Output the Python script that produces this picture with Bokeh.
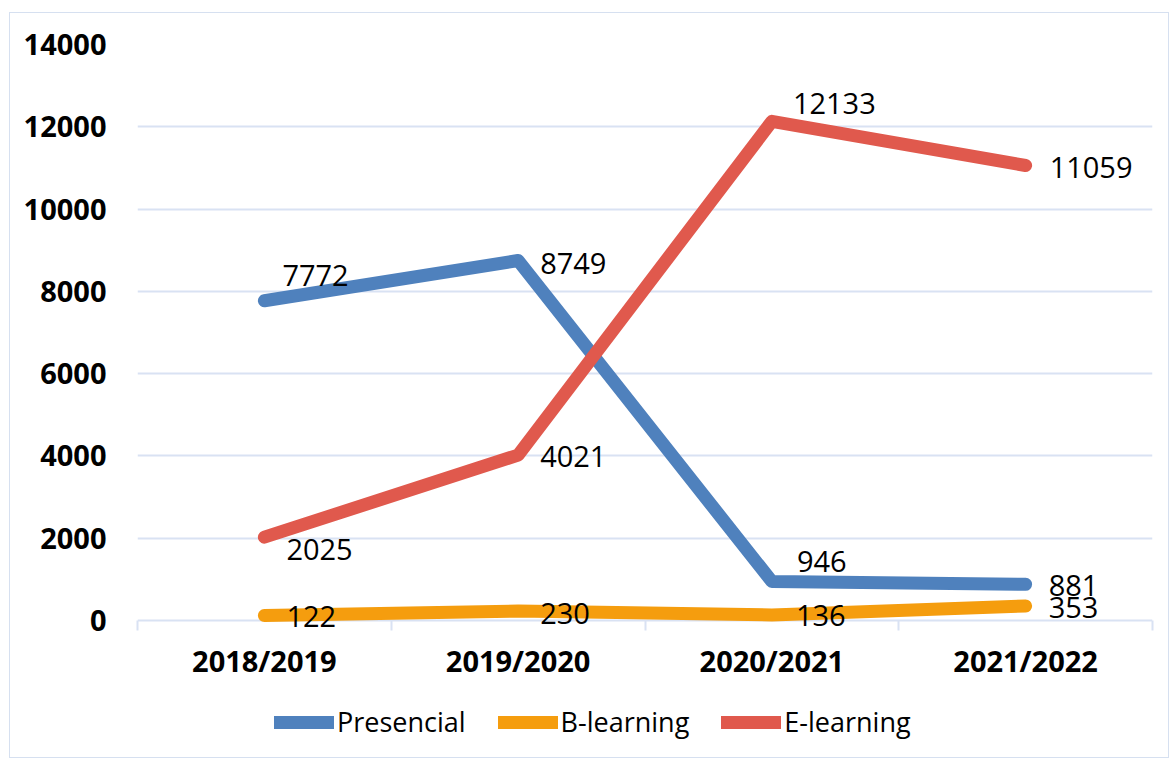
from bokeh.plotting import figure
from bokeh.layouts import column
from bokeh.models import (ColumnDataSource, Range1d, LinearAxis, LabelSet,
                          FixedTicker, Legend, LegendItem)
from bokeh.core.properties import value
from bokeh.embed import file_html
from bokeh.resources import INLINE

# ---- data ----
categories = ["2018/2019", "2019/2020", "2020/2021", "2021/2022"]
presencial = [7772, 8749, 946, 881]
b_learning = [122, 230, 136, 353]
e_learning = [2025, 4021, 12133, 11059]
series_names = ["Presencial", "B-learning", "E-learning"]
y_ticks = [0, 2000, 4000, 6000, 8000, 10000, 12000, 14000]

# category slots: each category centred in its own unit-wide band
xpos = [i + 0.5 for i in range(len(categories))]
edges = list(range(len(categories) + 1))

# ---- styles ----
FONT = "Open Sans"
GRID = "#D9E2F3"
Y_PAD = 243  # small room under the zero line so labels near 0 are not clipped
colors = {"Presencial": "#4F81BD", "B-learning": "#F59D0E", "E-learning": "#E0594D"}
# label offsets in screen px (x right, y up) per point
offsets = {
    "Presencial": ([18, 22, 25, 23], [25, -3, 20, -1]),
    "B-learning": ([22, 22, 24, 23], [-1, -2, -1, -2]),
    "E-learning": ([22, 22, 21, 24], [-12, -1, 18, -2]),
}

W = 1158
p = figure(width=W, height=680,
           x_range=Range1d(0, len(categories)),
           y_range=Range1d(-Y_PAD, y_ticks[-1]),
           output_backend="svg", toolbar_location=None,
           x_axis_location=None,
           min_border_left=127, min_border_right=16,
           min_border_top=31, min_border_bottom=63)
p.outline_line_color = None
p.background_fill_color = "white"
p.border_fill_color = "white"

# y axis
p.yaxis.ticker = FixedTicker(ticks=y_ticks)
p.yaxis.axis_line_color = None
p.yaxis.major_tick_line_color = None
p.yaxis.major_tick_out = 0
p.yaxis.minor_tick_line_color = None
p.yaxis.major_label_text_font = FONT
p.yaxis.major_label_text_font_style = "bold"
p.yaxis.major_label_text_font_size = "29px"
p.yaxis.major_label_text_color = "black"
p.yaxis.major_label_standoff = 31
p.ygrid.ticker = FixedTicker(ticks=y_ticks)
p.ygrid.grid_line_color = GRID
p.ygrid.grid_line_width = 2
p.xgrid.visible = False

# x axes: boundary ticks (hanging from the zero line) + category labels
tick_axis = LinearAxis(ticker=FixedTicker(ticks=edges),
                       major_label_overrides={e: "" for e in edges},
                       axis_line_color=None,
                       major_tick_line_color=GRID, major_tick_line_width=2,
                       major_tick_out=0, major_tick_in=10,
                       minor_tick_line_color=None,
                       major_label_text_font_size="2px", major_label_standoff=0)
p.add_layout(tick_axis, "below")
cat_axis = LinearAxis(ticker=FixedTicker(ticks=xpos),
                      major_label_overrides={x: c for x, c in zip(xpos, categories)},
                      axis_line_color=None, major_tick_line_color=None,
                      major_tick_out=0, major_tick_in=0,
                      minor_tick_line_color=None,
                      major_label_standoff=10,
                      major_label_text_font=FONT,
                      major_label_text_font_style="bold",
                      major_label_text_font_size="29px",
                      major_label_text_color="black")
p.add_layout(cat_axis, "below")

series_vals = {"Presencial": presencial, "B-learning": b_learning, "E-learning": e_learning}

for name in series_names:
    src = ColumnDataSource(dict(x=xpos, y=series_vals[name]))
    p.line("x", "y", source=src, line_width=13,
           line_color=colors[name], line_cap="round", line_join="round")

for name in series_names:
    xo, yo = offsets[name]
    vals = series_vals[name]
    src = ColumnDataSource(dict(x=xpos, y=vals, t=[str(v) for v in vals],
                                xo=xo, yo=yo))
    p.add_layout(LabelSet(x="x", y="y", text="t", source=src,
                          x_offset="xo", y_offset="yo",
                          text_font=value(FONT), text_font_size="29px",
                          text_color="black", text_align="left",
                          text_baseline="middle"))

# ---- legend strip below the chart (series drawn out of view, legend only) ----
lf = figure(width=W, height=64, x_range=Range1d(-3, -2), y_range=Range1d(0, 1),
            output_backend="svg", toolbar_location=None,
            x_axis_location=None, y_axis_location=None,
            min_border=0)
lf.outline_line_color = None
lf.grid.visible = False
lf.border_fill_color = "white"
lf.background_fill_color = "white"
legend_renderers = []
for name in series_names:
    src = ColumnDataSource(dict(x=xpos, y=series_vals[name]))
    legend_renderers.append(lf.line("x", "y", source=src, line_width=13,
                                    line_color=colors[name], line_cap="round"))
legend = Legend(items=[LegendItem(label=n, renderers=[r])
                       for n, r in zip(series_names, legend_renderers)],
                orientation="horizontal", location=(137, 17),
                glyph_width=60, glyph_height=30, label_standoff=3, spacing=32,
                padding=0, margin=0, border_line_color=None,
                background_fill_alpha=0,
                label_text_font=FONT, label_text_font_size="27px",
                label_text_color="black")
lf.add_layout(legend)

layout = column(p, lf, spacing=0,
                styles={"border": "1px solid #D6E0F0", "margin-left": "9px",
                        "margin-top": "12px"})

open("out.html", "w").write(file_html(layout, INLINE))
